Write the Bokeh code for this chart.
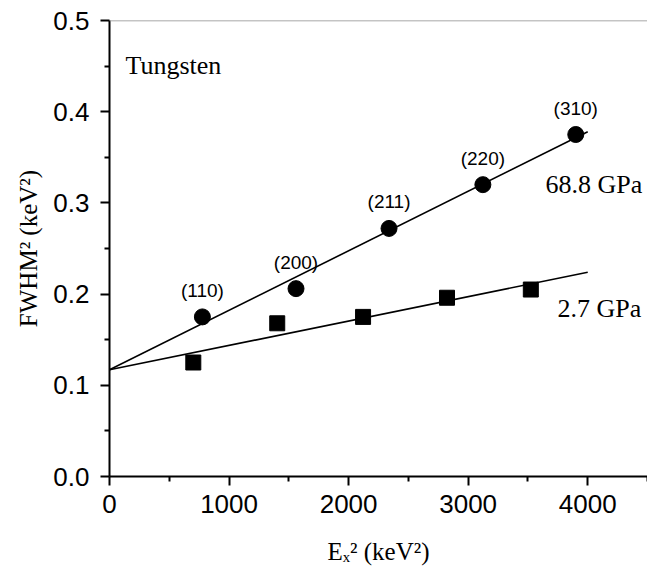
from bokeh.plotting import figure
from bokeh.models import (ColumnDataSource, FixedTicker, NumeralTickFormatter,
                          Range1d, Span)
from bokeh.core.properties import value
from bokeh.embed import file_html
from bokeh.resources import INLINE

# ---- data ----
circle_x = [777, 1560, 2338, 3123, 3900]
circle_y = [0.175, 0.206, 0.272, 0.320, 0.375]
circle_labels = ["(110)", "(200)", "(211)", "(220)", "(310)"]

square_x = [701, 1403, 2121, 2823, 3524]
square_y = [0.125, 0.168, 0.175, 0.196, 0.205]

fit_x = [0, 4000]
fit_high_y = [0.117, 0.378]
fit_low_y = [0.117, 0.224]

x_ticks = [0, 1000, 2000, 3000, 4000]
x_minor = [500, 1500, 2500, 3500, 4500]
y_ticks = [0.0, 0.1, 0.2, 0.3, 0.4, 0.5]
y_minor = [0.05, 0.15, 0.25, 0.35, 0.45]

SANS = "Liberation Sans"
SERIF = "Liberation Serif"

p = figure(width=647, height=583, output_backend="svg", toolbar_location=None,
           x_range=Range1d(0, 4500), y_range=Range1d(0, 0.5),
           min_border_left=109, min_border_right=0, min_border_top=20,
           min_border_bottom=107)
p.outline_line_color = None
p.xgrid.visible = False
p.ygrid.visible = False
p.background_fill_color = "white"
p.border_fill_color = "white"

p.add_layout(Span(location=0.5, dimension="width", line_color="#8a8a8a", line_width=1.5))

for ax in (p.xaxis[0], p.yaxis[0]):
    ax.axis_line_width = 2
    ax.axis_line_color = "black"
    ax.major_tick_line_width = 2
    ax.minor_tick_line_width = 2
    ax.major_tick_out = 9
    ax.major_tick_in = 0
    ax.minor_tick_out = 5
    ax.minor_tick_in = 0
    ax.major_label_text_font = SANS
    ax.major_label_text_font_size = "26px"
    ax.major_label_text_color = "black"
    ax.axis_label_text_font = SERIF
    ax.axis_label_text_font_size = "25px"
    ax.axis_label_text_font_style = "normal"
    ax.axis_label_text_color = "black"

p.xaxis[0].ticker = FixedTicker(ticks=x_ticks, minor_ticks=x_minor)
p.yaxis[0].ticker = FixedTicker(ticks=y_ticks, minor_ticks=y_minor)
p.yaxis[0].formatter = NumeralTickFormatter(format="0.0")
p.xaxis[0].major_label_standoff = 9
p.yaxis[0].major_label_standoff = 11
p.xaxis[0].axis_label = "E\u2093\u00b2 (keV\u00b2)"
p.yaxis[0].axis_label = "FWHM\u00b2 (keV\u00b2)"
p.xaxis[0].axis_label_standoff = 22
p.yaxis[0].axis_label_standoff = 8

p.line(fit_x, fit_high_y, line_color="black", line_width=1.6)
p.line(fit_x, fit_low_y, line_color="black", line_width=1.6)

src_c = ColumnDataSource(dict(x=circle_x, y=circle_y, t=circle_labels))
p.scatter("x", "y", source=src_c, marker="circle", size=16,
          fill_color="black", line_color="black")
p.scatter(square_x, square_y, marker="square", size=15,
          fill_color="black", line_color="black")

p.text("x", "y", text="t", source=src_c, y_offset=-16,
       text_align="center", text_baseline="bottom",
       text_font=value(SANS), text_font_size="19px", text_color="black")

p.text(x=[134], y=[0.4507], text=["Tungsten"], text_font=value(SERIF),
       text_font_size="26px", text_baseline="alphabetic", text_color="black")
p.text(x=[3647], y=[0.320], text=["68.8 GPa"], text_font=value(SERIF),
       text_font_size="26px", text_baseline="alphabetic", text_color="black")
p.text(x=[3747], y=[0.184], text=["2.7 GPa"], text_font=value(SERIF),
       text_font_size="26px", text_baseline="alphabetic", text_color="black")

open("out.html", "w").write(file_html(p, INLINE))
